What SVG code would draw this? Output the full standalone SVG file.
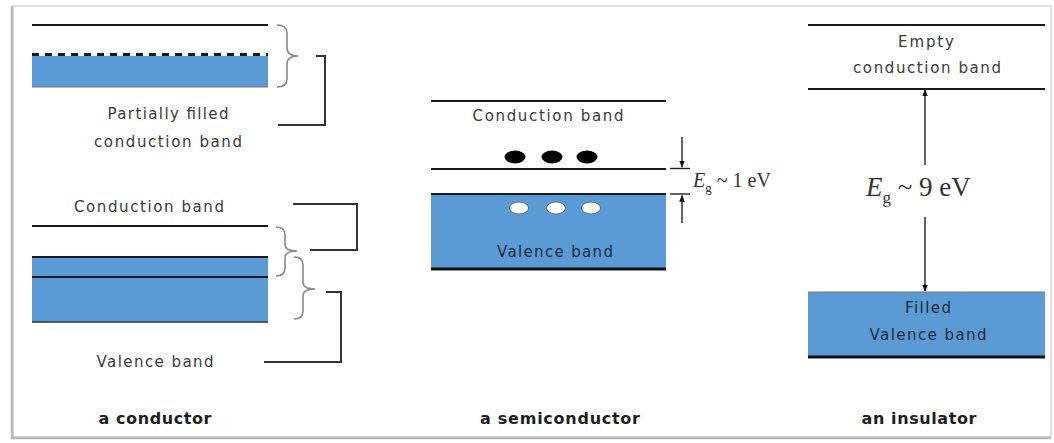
<svg xmlns="http://www.w3.org/2000/svg" width="1054" height="443" viewBox="0 0 1054 443">
<defs>
<style>
.t{font-family:"DejaVu Sans","Liberation Sans",sans-serif;font-size:15px;fill:#3a3a3a;text-anchor:middle}
.tb{font-family:"DejaVu Sans","Liberation Sans",sans-serif;font-size:16px;font-weight:bold;fill:#1e1e1e;text-anchor:middle}
.ti{fill:#1c2a3a}
.m{font-family:"Liberation Serif","DejaVu Serif",serif;fill:#333}
.ln{stroke:#1a1a1a;stroke-width:2;fill:none}
.thick{stroke:#111;stroke-width:3;fill:none}
.band{fill:#5b9bd5}
.brace{stroke:#8a8a8a;stroke-width:1.6;fill:none}
.sq{stroke:#333;stroke-width:2;fill:none}
.arr{stroke:#222;stroke-width:1.4;fill:none}
</style>
<marker id="ah" viewBox="0 0 10 10" refX="9" refY="5" markerWidth="7" markerHeight="7" markerUnits="userSpaceOnUse" orient="auto">
<path d="M0,1 L10,5 L0,9 z" fill="#111"/>
</marker>
</defs>
<rect width="1054" height="443" fill="#fff"/>
<rect x="13" y="6" width="1038" height="431" fill="#fff" stroke="#d6d6d6" stroke-width="1.5"/>
<path d="M12,6 V438 H1051" fill="none" stroke="#b8b8b8" stroke-width="2.5"/>

<g id="conductor">
<line class="ln" x1="32" y1="25" x2="268" y2="25"/>
<rect class="band" x="32" y="56" width="236" height="31"/>
<line x1="32" y1="87" x2="268" y2="87" stroke="#777" stroke-width="1.2"/>
<line x1="32" y1="54.5" x2="268" y2="54.5" stroke="#1a1a1a" stroke-width="3" stroke-dasharray="7,6"/>
<text class="t" x="168" y="119" textLength="121">Partially filled</text>
<text class="t" x="168" y="147" textLength="148">conduction band</text>
<text class="t" x="149" y="212" textLength="150">Conduction band</text>
<line class="ln" x1="32" y1="226" x2="268" y2="226"/>
<rect class="band" x="32" y="257" width="236" height="65"/>
<line class="ln" x1="32" y1="257" x2="268" y2="257"/>
<line class="ln" x1="32" y1="277" x2="268" y2="277"/>
<line x1="32" y1="322" x2="268" y2="322" stroke="#333" stroke-width="1.5"/>
<text class="t" x="155" y="367" textLength="117">Valence band</text>
<text class="tb" x="155" y="424" textLength="113">a conductor</text>
</g>

<g id="semiconductor">
<line class="ln" x1="431" y1="101" x2="666" y2="101"/>
<text class="t" x="548" y="121" textLength="151">Conduction band</text>
<ellipse cx="515" cy="157" rx="10.5" ry="6.5" fill="#000"/>
<ellipse cx="552" cy="157" rx="10.5" ry="6.5" fill="#000"/>
<ellipse cx="587" cy="157" rx="10.5" ry="6.5" fill="#000"/>
<line class="ln" x1="431" y1="169" x2="666" y2="169"/>
<rect class="band" x="431" y="194" width="235" height="75"/>
<line class="ln" x1="431" y1="194" x2="666" y2="194"/>
<line class="thick" x1="431" y1="269" x2="666" y2="269"/>
<ellipse cx="519" cy="208" rx="9.5" ry="6" fill="#fff" stroke="#4a5a6a" stroke-width="0.8"/>
<ellipse cx="556" cy="208" rx="9.5" ry="6" fill="#fff" stroke="#4a5a6a" stroke-width="0.8"/>
<ellipse cx="591" cy="208" rx="9.5" ry="6" fill="#fff" stroke="#4a5a6a" stroke-width="0.8"/>
<text class="t ti" x="555" y="257" textLength="116">Valence band</text>
<text class="m" x="693" y="187" font-size="20"><tspan font-style="italic">E</tspan><tspan font-size="13" dy="5">g</tspan><tspan dy="-5"> ~ 1 eV</tspan></text>
<text class="tb" x="560" y="424" textLength="160">a semiconductor</text>
</g>

<g id="insulator">
<line class="ln" x1="808" y1="25" x2="1045" y2="25"/>
<text class="t" x="926" y="47" textLength="56">Empty</text>
<text class="t" x="927" y="73" textLength="148">conduction band</text>
<line class="ln" x1="808" y1="89" x2="1045" y2="89"/>
<text class="m" x="866" y="196" font-size="27"><tspan font-style="italic">E</tspan><tspan font-size="17" dy="7">g</tspan><tspan dy="-7"> ~ 9 eV</tspan></text>
<rect class="band" x="808" y="292" width="237" height="65"/>
<line x1="808" y1="292" x2="1045" y2="292" stroke="#777" stroke-width="1"/>
<line class="thick" x1="808" y1="357" x2="1045" y2="357"/>
<text class="t ti" x="928" y="313" textLength="46">Filled</text>
<text class="t ti" x="928" y="340" textLength="117">Valence band</text>
<text class="tb" x="919" y="424" textLength="115">an insulator</text>
</g>

<g id="connectors">
<path class="brace" d="M277,25 Q287,25 287,33 V48 Q287,56 298,56 Q287,56 287,64 V79 Q287,87 277,87"/>
<path class="sq" d="M316,56 H325 V125 H278"/>
<path class="brace" d="M276,227 Q285,227 285,235 V244 Q285,251 297,251 Q285,251 285,258 V268 Q285,276 276,276"/>
<path class="brace" d="M294,257 Q303,257 303,265 V282 Q303,289 315,289 Q303,289 303,296 V311 Q303,319 294,319"/>
<path class="sq" d="M293,204 H357 V250 H310"/>
<path class="sq" d="M326,292 H341 V362 H264"/>
<line class="arr" x1="682" y1="137" x2="682" y2="167" marker-end="url(#ah)"/>
<line class="arr" x1="670" y1="168.5" x2="690" y2="168.5"/>
<line class="arr" x1="670" y1="194" x2="690" y2="194"/>
<line class="arr" x1="682" y1="223" x2="682" y2="195.5" marker-end="url(#ah)"/>
<line class="arr" x1="925" y1="165" x2="925" y2="90" marker-end="url(#ah)"/>
<line class="arr" x1="925" y1="217" x2="925" y2="291" marker-end="url(#ah)"/>
</g>
</svg>
